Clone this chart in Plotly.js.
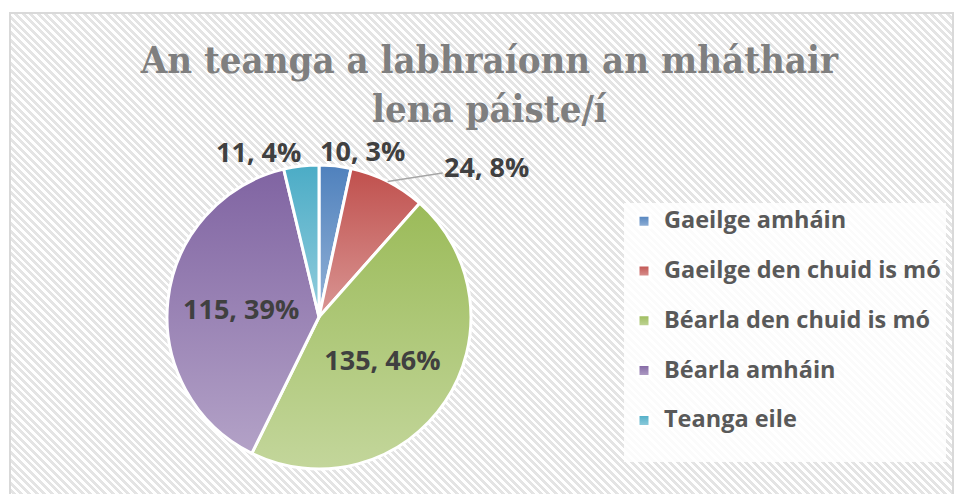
<!DOCTYPE html>
<html>
<head>
<meta charset="utf-8">
<script src="https://cdn.plot.ly/plotly-3.0.1.min.js"></script>
<style>
  html, body { margin: 0; padding: 0; width: 954px; height: 494px; overflow: hidden; background: #ffffff; }
  #frame {
    position: absolute; left: 9px; top: 12px; width: 941px; height: 490px;
    border: 2px solid #d9d9d9;
    background: repeating-linear-gradient(45deg, #ffffff 0px, #ffffff 2.6px, #e4e4e4 2.6px, #e4e4e4 5.4px);
  }
  #chart { position: absolute; left: 0; top: 0; width: 954px; height: 494px; }
</style>
</head>
<body>
<div id="frame"></div>
<div id="chart"></div>
<script>
// ---- data ----
var categories = ['Gaeilge amháin', 'Gaeilge den chuid is mó', 'Béarla den chuid is mó', 'Béarla amháin', 'Teanga eile'];
var counts = [10, 24, 135, 115, 11];
var sliceColors = ['#4F81BD', '#C0504D', '#9BBB59', '#8064A2', '#4BACC6'];
var labelPositions = ['none', 'none', 'inside', 'inside', 'none'];
var chartTitle = 'An teanga a labhraíonn an mháthair<br>lena páiste/í';

var W = 954, H = 494;
var cx = 319, cy = 317, r = 152;
var labelFont = { family: 'Open Sans, sans-serif', size: 27, color: '#404040', weight: 700 };

var legendLabels = categories.map(function (c) {
  return '<span style="font-size:23.5px">' + c + '</span><br> ';
});

// outside labels (annotations) computed from the data: anchored on the slice edge at its mid-angle
var total = counts.reduce(function (a, b) { return a + b; }, 0);
var outsideLabelSpec = { 0: { dx: 27, dy: -15, arrow: false }, 1: { dx: 99, dy: -15, arrow: true }, 4: { dx: -43, dy: -15, arrow: false } };
var annotations = [];
var cum = 0;
counts.forEach(function (v, i) {
  var mid = (cum + v / 2) / total * 2 * Math.PI;
  cum += v;
  var spec = outsideLabelSpec[i];
  if (!spec) return;
  var px = cx + r * Math.sin(mid), py = cy - r * Math.cos(mid);
  var txt = v + ', ' + Math.round(v / total * 100) + '%';
  var a = {
    xref: 'paper', yref: 'paper', x: px / W, y: 1 - py / H,
    text: txt, font: labelFont, xanchor: 'center', yanchor: 'middle'
  };
  if (spec.arrow) {
    a.showarrow = true; a.ax = spec.dx; a.ay = spec.dy; a.arrowhead = 0;
    a.arrowcolor = '#a6a6a6'; a.arrowwidth = 1.5; a.standoff = 0;
  } else {
    a.showarrow = false; a.xshift = spec.dx; a.yshift = -spec.dy;
  }
  annotations.push(a);
});

var trace = {
  type: 'pie',
  labels: legendLabels,
  values: counts,
  sort: false,
  direction: 'clockwise',
  rotation: 0,
  marker: { colors: sliceColors, line: { color: '#ffffff', width: 3 } },
  texttemplate: '%{value}, %{percent:.0%}',
  textposition: labelPositions,
  insidetextorientation: 'horizontal',
  textfont: labelFont,
  insidetextfont: labelFont,
  hoverinfo: 'none',
  domain: { x: [(cx - r) / W, (cx + r) / W], y: [(H - cy - r) / H, (H - cy + r) / H] }
};

var layout = {
  width: W, height: H,
  margin: { l: 0, r: 0, t: 0, b: 0 },
  paper_bgcolor: 'rgba(0,0,0,0)',
  plot_bgcolor: 'rgba(0,0,0,0)',
  title: {
    text: chartTitle,
    x: 0.513, xanchor: 'center',
    y: 0.853, yanchor: 'top', yref: 'container',
    font: { family: 'DejaVu Serif Condensed, Liberation Serif, serif', size: 38, color: '#7f7f7f', weight: 700 }
  },
  annotations: annotations,
  showlegend: true,
  legend: {
    x: 624 / W, xanchor: 'left',
    y: 1 - 203 / H, yanchor: 'top',
    valign: 'top',
    bgcolor: 'rgba(255,255,255,0.85)',
    borderwidth: 0,
    font: { family: 'Open Sans, sans-serif', size: 18, color: '#595959', weight: 700 }
  }
};

function mix(hex, t) {
  var n = parseInt(hex.slice(1), 16);
  var rr = (n >> 16) & 255, gg = (n >> 8) & 255, bb = n & 255;
  rr = Math.round(rr + (255 - rr) * t); gg = Math.round(gg + (255 - gg) * t); bb = Math.round(bb + (255 - bb) * t);
  return 'rgb(' + rr + ',' + gg + ',' + bb + ')';
}
function hexToRgbStr(hex) {
  var n = parseInt(hex.slice(1), 16);
  return 'rgb(' + ((n >> 16) & 255) + ', ' + ((n >> 8) & 255) + ', ' + (n & 255) + ')';
}

Plotly.newPlot('chart', [trace], layout, { staticPlot: true }).then(function (gd) {
  var svg = gd.querySelector('svg.main-svg');
  var ns = 'http://www.w3.org/2000/svg';
  var defs = document.createElementNS(ns, 'defs');
  sliceColors.forEach(function (c, i) {
    var lg = document.createElementNS(ns, 'linearGradient');
    lg.setAttribute('id', 'sliceGrad' + i);
    lg.setAttribute('x1', '0'); lg.setAttribute('y1', '0');
    lg.setAttribute('x2', '0'); lg.setAttribute('y2', '1');
    var s1 = document.createElementNS(ns, 'stop');
    s1.setAttribute('offset', '0'); s1.setAttribute('stop-color', c);
    var s2 = document.createElementNS(ns, 'stop');
    s2.setAttribute('offset', '1'); s2.setAttribute('stop-color', mix(c, 0.4));
    lg.appendChild(s1); lg.appendChild(s2);
    defs.appendChild(lg);
  });
  svg.insertBefore(defs, svg.firstChild);
  var colorMap = {};
  sliceColors.forEach(function (c, i) { colorMap[hexToRgbStr(c)] = i; });
  gd.querySelectorAll('path').forEach(function (p) {
    var f = p.style.fill;
    if (f && colorMap.hasOwnProperty(f)) {
      p.style.fill = 'url(#sliceGrad' + colorMap[f] + ')';
    }
  });
});
</script>
</body>
</html>
